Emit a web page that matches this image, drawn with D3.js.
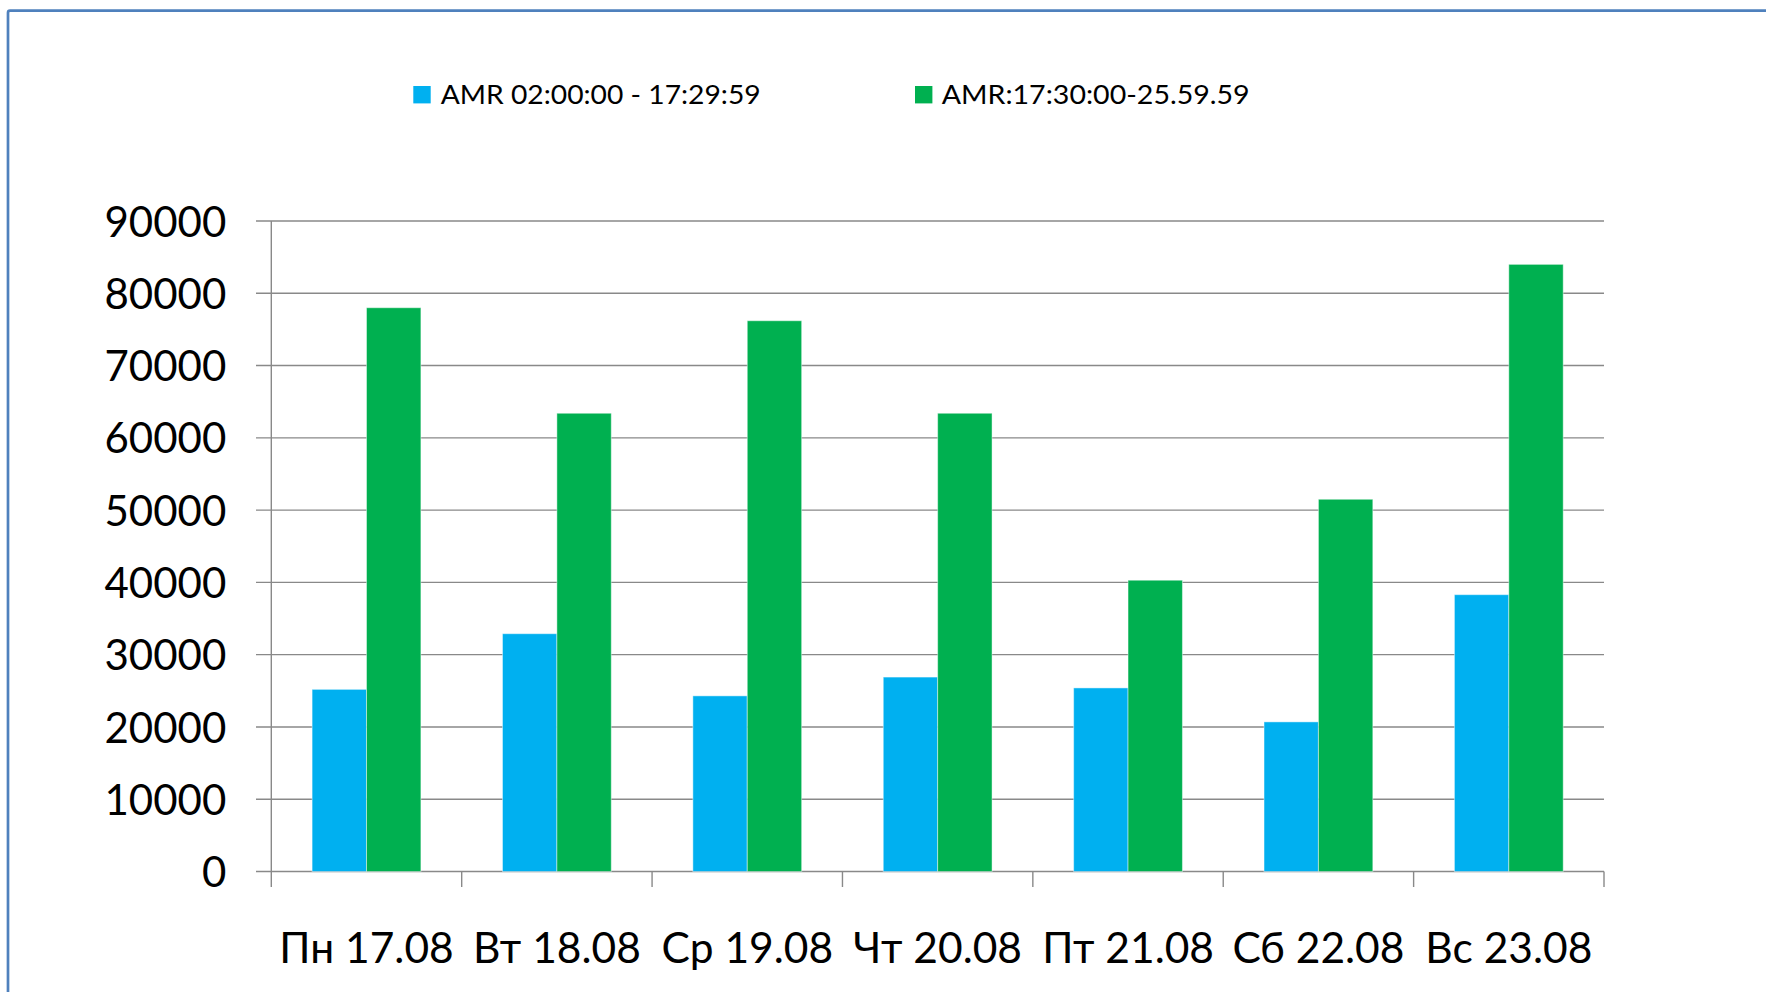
<!DOCTYPE html>
<html>
<head>
<meta charset="utf-8">
<script src="https://cdn.jsdelivr.net/npm/d3@7/dist/d3.min.js"></script>
<style>
  html, body { margin: 0; padding: 0; background: #fff; }
  svg { display: block; font-family: Lato, "Open Sans", sans-serif; }
</style>
</head>
<body>
<svg id="chart" width="1766" height="992"></svg>
<script>
const categories = ["Пн 17.08", "Вт 18.08", "Ср 19.08", "Чт 20.08", "Пт 21.08", "Сб 22.08", "Вс 23.08"];
const seriesNames = ["AMR 02:00:00 - 17:29:59", "AMR:17:30:00-25.59.59"];
const seriesDay = [25200, 32900, 24300, 26900, 25400, 20700, 38300];
const seriesEvening = [78000, 63400, 76200, 63400, 40300, 51500, 84000];
const yTicks = [0, 10000, 20000, 30000, 40000, 50000, 60000, 70000, 80000, 90000];
const colors = ["#00B0F0", "#00B050"];

(function () {
const svg = d3.select("#chart");
const W = 1766, H = 992;
const pLeft = 271.3, pRight = 1604, pTop = 221, pBottom = 871.5;

// frame
svg.append("rect")
  .attr("x", 8).attr("y", 10.7).attr("width", W + 20).attr("height", H + 20)
  .attr("rx", 2)
  .attr("fill", "none").attr("stroke", "#4F81BD").attr("stroke-width", 2.7);

const x0 = d3.scaleBand().domain(categories).range([pLeft, pRight]).padding(0);
const x1 = d3.scaleBand().domain(seriesNames).range([0, x0.bandwidth()]).paddingInner(0).paddingOuter(0.75);
const y = d3.scaleLinear().domain([0, 90000]).range([pBottom, pTop]);

// gridlines
svg.append("g").selectAll("line").data(yTicks).join("line")
  .attr("x1", 256).attr("x2", pRight)
  .attr("y1", d => y(d)).attr("y2", d => y(d))
  .attr("stroke", "#898989").attr("stroke-width", 1.4);

// bars
const data = categories.map((c, i) => ({ cat: c, vals: [seriesDay[i], seriesEvening[i]] }));
const groups = svg.append("g").selectAll("g").data(data).join("g")
  .attr("transform", d => `translate(${x0(d.cat)},0)`);
groups.selectAll("rect").data(d => d.vals.map((v, j) => ({ name: seriesNames[j], v, j }))).join("rect")
  .attr("x", d => x1(d.name))
  .attr("width", x1.bandwidth())
  .attr("y", d => y(d.v))
  .attr("height", d => y(0) - y(d.v))
  .attr("fill", d => colors[d.j])
  .attr("stroke", "rgba(255,255,255,0.45)")
  .attr("stroke-width", 1);

// y axis line
svg.append("line")
  .attr("x1", pLeft).attr("x2", pLeft).attr("y1", pTop).attr("y2", 887)
  .attr("stroke", "#898989").attr("stroke-width", 1.4);

// x category boundary ticks
const bounds = categories.map(c => x0(c)).concat([pRight]);
svg.append("g").selectAll("line").data(bounds.slice(1)).join("line")
  .attr("x1", d => d).attr("x2", d => d).attr("y1", pBottom).attr("y2", 887)
  .attr("stroke", "#898989").attr("stroke-width", 1.4);

// y axis labels
const yAxis = d3.axisLeft(y).tickValues(yTicks).tickSize(0).tickPadding(45).tickFormat(d3.format("d"));
const gy = svg.append("g").attr("transform", `translate(${pLeft},0)`).call(yAxis);
gy.select(".domain").remove();
gy.selectAll("text")
  .attr("font-family", "Lato, 'Open Sans', sans-serif")
  .attr("font-size", 42).attr("fill", "#000").attr("dy", "0.36em");

// x axis labels
const xAxis = d3.axisBottom(x0).tickSize(0).tickPadding(0);
const gx = svg.append("g").attr("transform", `translate(0,${pBottom})`).call(xAxis);
gx.select(".domain").remove();
gx.selectAll("text")
  .attr("font-family", "Lato, 'Open Sans', sans-serif")
  .attr("font-size", 42.5).attr("fill", "#000")
  .attr("y", 962.5 - pBottom).attr("dy", 0);

// legend
const legendItems = [
  { name: seriesNames[0], color: colors[0], mx: 413.3, tx: 440.7, tw: 320 },
  { name: seriesNames[1], color: colors[1], mx: 915, tx: 941.7, tw: 308 }
];
const lg = svg.append("g");
lg.selectAll("rect").data(legendItems).join("rect")
  .attr("x", d => d.mx).attr("y", 86).attr("width", 17.4).attr("height", 17.4)
  .attr("fill", d => d.color);
lg.selectAll("text").data(legendItems).join("text")
  .attr("x", d => d.tx).attr("y", 104.3)
  .attr("font-size", 26.5).attr("fill", "#000")
  .attr("textLength", d => d.tw).attr("lengthAdjust", "spacingAndGlyphs")
  .text(d => d.name);
})();
</script>
</body>
</html>
